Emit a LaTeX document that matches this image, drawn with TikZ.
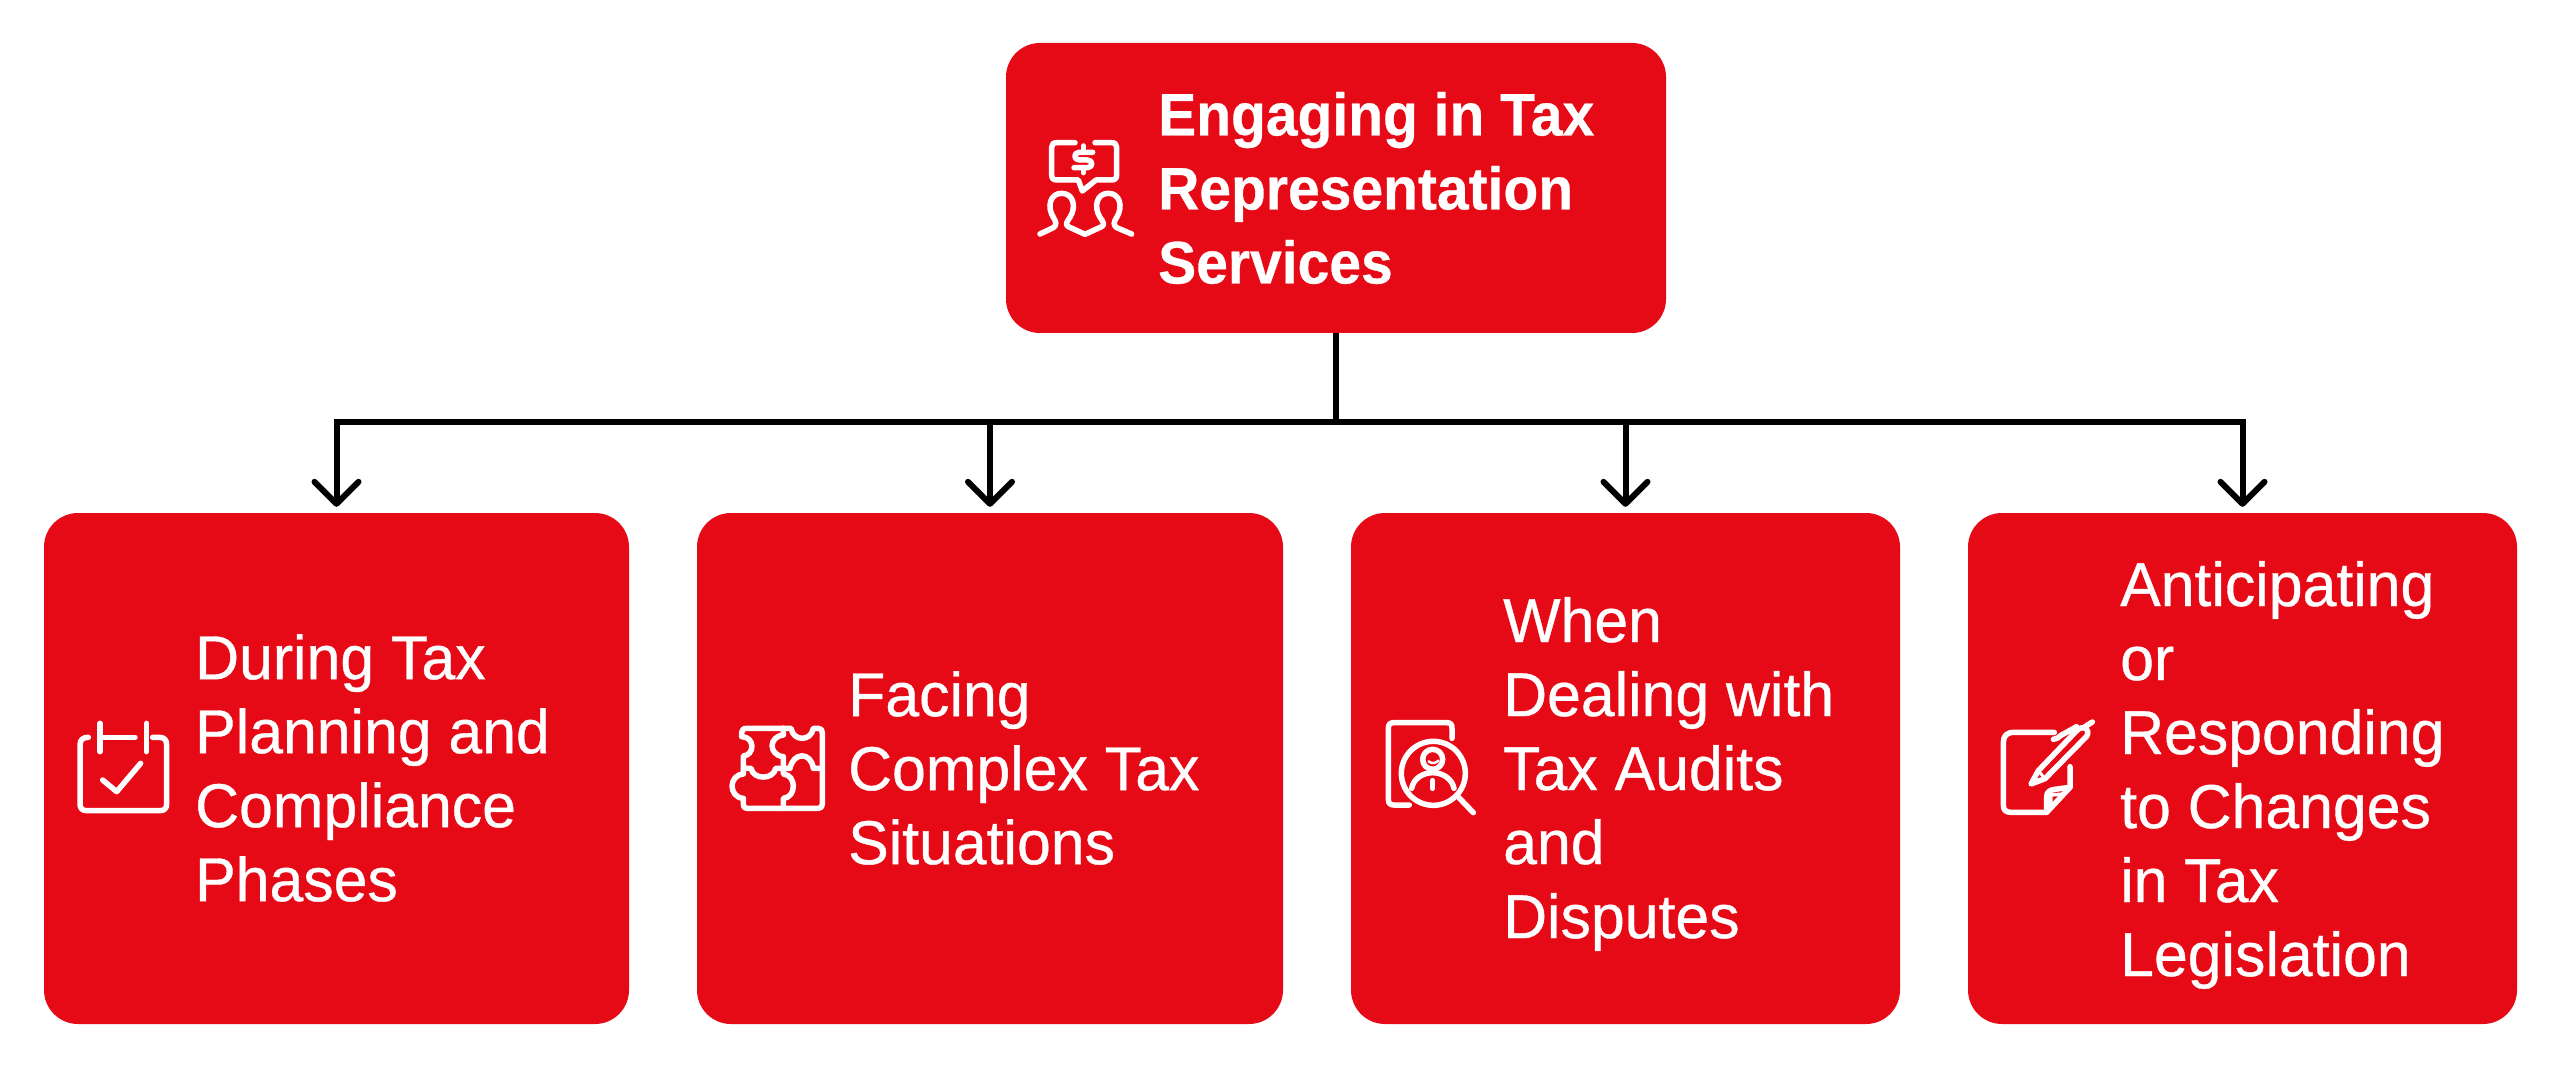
\documentclass[tikz,border=0pt]{standalone}
\usepackage{fontspec}
\setmainfont{Liberation Sans}
\newfontfamily\bodyface[FakeBold=0.6,FakeStretch=0.98]{Liberation Sans}
\newfontfamily\headface[FakeBold=0.5,FakeStretch=0.95]{Liberation Sans Bold}
\usetikzlibrary{arrows.meta}
\definecolor{boxred}{RGB}{230,10,22}
\tikzset{
  x=1pt,y=-1pt,
  redbox/.style={fill=boxred,draw=none,rectangle,rounded corners=34pt,inner sep=0pt},
  bodytext/.style={text=white,anchor=west,align=left,inner sep=0pt,font=\bodyface\fontsize{62}{74}\selectfont},
  headtext/.style={text=white,anchor=west,align=left,inner sep=0pt,font=\headface\fontsize{60}{74}\selectfont},
  conn/.style={draw=black,line width=6pt,-{Straight Barb[length=22pt,width=44pt,line cap=round,line join=round]},shorten >=6pt},
  stem/.style={draw=black,line width=6pt},
  icon/.style={draw=white,line width=5.5pt,line cap=round,line join=round,fill=none},
  zoomunits/.style={x=0.33333pt,y=-0.33333pt}
}
\begin{document}
\begin{tikzpicture}
\useasboundingbox (0,0) rectangle (2560,1067);
\fill[white] (0,0) rectangle (2560,1067);
\node[redbox,minimum width=660pt,minimum height=290pt] (top) at (1336,188) {};
\node[redbox,minimum width=585pt,minimum height=511pt] (c1) at (336.5,768.5) {};
\node[redbox,minimum width=586pt,minimum height=511pt] (c2) at (990,768.5) {};
\node[redbox,minimum width=549pt,minimum height=511pt] (c3) at (1625.5,768.5) {};
\node[redbox,minimum width=549pt,minimum height=511pt] (c4) at (2242.5,768.5) {};
\coordinate (bus) at (1336,422);
\draw[stem] (top.south) -- (bus);
\draw[conn] (bus) -| (c1.north);
\draw[conn] (bus) -| (c2.north);
\draw[conn] (bus) -| (c3.north);
\draw[conn] (bus) -| (c4.north);
\node[headtext] (toplabel) at (1158,188) {Engaging in Tax\\Representation\\Services};
\node[bodytext] (l1) at (195,768) {During Tax\\Planning and\\Compliance\\Phases};
\node[bodytext] (l2) at (848,768) {Facing\\Complex Tax\\Situations};
\node[bodytext] (l3) at (1503,774) {When\\Dealing with\\Tax Audits\\and\\Disputes};
\node[bodytext] (l4) at (2120,775) {Anticipating\\or\\Responding\\to Changes\\in Tax\\Legislation};
% top icon
\begin{scope}[shift={(1020,130)},zoomunits]
\draw[icon] (165,38) -- (110,38) .. controls (100,38) and (95,43) .. (95,52) -- (95,135) .. controls (95,145) and (100,150) .. (110,150) -- (175,150) -- (187,183) -- (228,150) -- (275,150) .. controls (285,150) and (290,145) .. (290,135) -- (290,52) .. controls (290,43) and (285,38) .. (275,38) -- (225,38);
\draw[icon] (218,67) -- (178,67) .. controls (160,67) and (160,90) .. (178,90) -- (202,90) .. controls (220,90) and (220,113) .. (202,113) -- (162,113);
\draw[icon] (190,48) -- (190,62);
\draw[icon] (190,116) -- (190,128);
\draw[icon] (60,312) -- (100,293) .. controls (112,285) and (108,275) .. (100,262) .. controls (80,230) and (90,190) .. (125,190) .. controls (160,190) and (170,230) .. (150,262) .. controls (140,275) and (135,285) .. (145,290) -- (195,313) -- (245,290) .. controls (255,285) and (250,275) .. (240,262) .. controls (220,230) and (230,190) .. (265,190) .. controls (300,190) and (310,230) .. (290,262) .. controls (282,275) and (278,285) .. (290,293) -- (335,312);
\end{scope}
% calendar
\begin{scope}[shift={(60,700)},zoomunits]
\draw[icon] (85,112) .. controls (68,112) and (60,120) .. (60,135) -- (60,312) .. controls (60,325) and (67,332) .. (80,332) -- (300,332) .. controls (313,332) and (320,325) .. (320,312) -- (320,135) .. controls (320,120) and (313,112) .. (298,112) -- (278,112);
\draw[icon] (120,70) -- (120,155);
\draw[icon] (260,70) -- (260,155);
\draw[icon] (130,112) -- (225,112);
\draw[icon] (128,240) -- (170,275) -- (242,190);
\end{scope}
% puzzle
\begin{scope}[shift={(715,700)},zoomunits]
\draw[icon] (205,85) -- (95,85) .. controls (85,85) and (80,90) .. (80,98) -- (80,110) .. controls (120,110) and (120,165) .. (85,168) -- (85,205) -- (108,205) .. controls (115,240) and (175,240) .. (182,205) -- (205,205) -- (205,222) .. controls (245,225) and (245,292) .. (205,295) -- (205,325);
\draw[icon] (205,85) -- (205,105) .. controls (160,110) and (160,165) .. (205,170) -- (205,205);
\draw[icon] (205,85) -- (228,85) .. controls (235,125) and (288,125) .. (295,85) -- (310,85) .. controls (318,85) and (322,90) .. (322,98) -- (322,312) .. controls (322,320) and (318,325) .. (310,325) -- (95,325) .. controls (87,325) and (85,320) .. (85,312) -- (85,295) .. controls (40,292) and (40,225) .. (85,222) -- (85,205);
\draw[icon] (205,205) -- (225,205) .. controls (235,155) and (288,155) .. (295,205) -- (322,205);
\end{scope}
% magnifier
\begin{scope}[shift={(1370,700)},zoomunits]
\draw[icon] (118,315) -- (72,315) .. controls (60,315) and (55,310) .. (55,298) -- (55,85) .. controls (55,73) and (60,68) .. (72,68) -- (230,68) .. controls (242,68) and (246,73) .. (246,85) -- (246,115);
\draw[icon] (190,220) circle[radius=96];
\draw[icon] (262,288) -- (310,338);
\draw[icon] (188,178) circle[radius=30];
\draw[icon] (125,265) .. controls (130,235) and (160,218) .. (188,218) .. controls (216,218) and (246,235) .. (252,265);
\draw[icon] (188,242) -- (188,265);
\draw[icon,line width=2.5pt] (176,184) .. controls (185,192) and (198,190) .. (205,182);
\end{scope}
% pencil
\begin{scope}[shift={(1985,700)},zoomunits]
\draw[icon] (208,97) -- (88,97) .. controls (65,97) and (55,107) .. (55,128) -- (55,315) .. controls (55,330) and (62,337) .. (78,337) -- (185,337) -- (255,262) -- (255,200);
\draw[icon] (185,337) -- (185,290) .. controls (185,275) and (195,270) .. (210,268) -- (255,262);
\draw[icon,line width=3.5pt] (197,285) -- (238,282) -- (198,320) -- cycle;
\draw[icon] (138,252) -- (160,212) -- (275,92) .. controls (285,82) and (298,80) .. (305,88) .. controls (312,97) and (308,108) .. (298,116) -- (180,236) -- cycle;
\draw[icon] (205,118) .. controls (215,118) and (220,112) .. (228,106) -- (275,80);
\draw[icon] (300,80) -- (322,66);
\draw[icon,line width=3pt] (160,212) -- (180,236);
\end{scope}
\end{tikzpicture}
\end{document}
